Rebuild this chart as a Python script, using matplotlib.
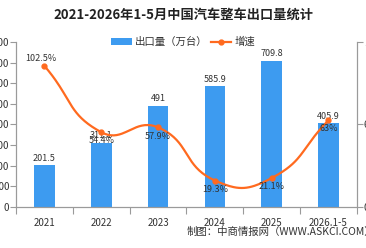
import numpy as np
import matplotlib
matplotlib.use("Agg")
import matplotlib.pyplot as plt

plt.rcParams['font.family'] = ['Noto Sans CJK SC', 'DejaVu Sans']

# data
categories = ["2021", "2022", "2023", "2024", "2025", "2026.1-5"]
exports = [201.5, 311.1, 491, 585.9, 709.8, 405.9]
growth = [102.5, 54.4, 57.9, 19.3, 21.1, 63]
export_labels = ["201.5", "311.1", "491", "585.9", "709.8", "405.9"]
growth_labels = ["102.5%", "54.4%", "57.9%", "19.3%", "21.1%", "63%"]
left_ticks = [0, 100, 200, 300, 400, 500, 600, 700, 800]
right_ticks = [0, 60, 120]

BAR = "#3d9bf0"
LINE = "#ff6a1f"
TXT = "#333333"
AX = "#9a9a9a"


def smooth_line(xs, ys, sx=57.0, sy=1.375, smooth=0.5, n=40):
    # echarts-like bezier smoothing, computed in (approx.) pixel units
    P = np.column_stack([np.asarray(xs, float) * sx, np.asarray(ys, float) * sy])
    k = len(P)
    cps = []
    for i in range(k):
        prev = P[i - 1] if i > 0 else P[i]
        nxt = P[i + 1] if i < k - 1 else P[i]
        v = (nxt - prev) * smooth
        d0 = np.linalg.norm(P[i] - prev)
        d1 = np.linalg.norm(P[i] - nxt)
        tot = d0 + d1
        if tot == 0:
            cps.append((P[i], P[i]))
            continue
        cps.append((P[i] - v * d0 / tot, P[i] + v * d1 / tot))
    out = []
    s = np.linspace(0, 1, n)[:, None]
    for i in range(k - 1):
        a, b = P[i], P[i + 1]
        c1, c2 = cps[i][1], cps[i + 1][0]
        pts = ((1 - s) ** 3 * a + 3 * (1 - s) ** 2 * s * c1
               + 3 * (1 - s) * s ** 2 * c2 + s ** 3 * b)
        out.append(pts)
    out = np.vstack(out)
    return out[:, 0] / sx, out[:, 1] / sy


fig = plt.figure(figsize=(3.66, 2.48), dpi=100)
ax = fig.add_axes([0.044, 0.165, 0.931, 0.666])
ax2 = ax.twinx()

x = np.arange(len(categories))
ax.bar(x, exports, width=0.36, color=BAR, zorder=2, label="出口量（万台）")
ax.set_xlim(-0.5, len(categories) - 0.5)
ax.set_ylim(0, 800)
ax.set_yticks(left_ticks)
ax.set_yticklabels([str(v) for v in left_ticks])

for xi, v, lab in zip(x, exports, export_labels):
    ax.text(xi, v + 12, lab, ha="center", va="bottom", fontsize=6.5, color=TXT)

lx, ly = smooth_line(x, growth)
ax2.plot(lx, ly, color=LINE, lw=1.6, zorder=3)
ax2.plot(x, growth, "o", color=LINE, ms=3.5, zorder=4)
ax2.plot([], [], color=LINE, lw=1.6, marker="o", ms=3.5, label="增速")
ax2.set_ylim(0, 120)
ax2.set_yticks(right_ticks)
ax2.set_yticklabels([f"{v}%" for v in right_ticks])

for i, (xi, v, lab) in enumerate(zip(x, growth, growth_labels)):
    if i == 0:
        ax2.text(xi - 0.06, v + 2, lab, ha="center", va="bottom", fontsize=6.5,
                 color=TXT, zorder=5)
    else:
        ax2.text(xi, v - 3, lab, ha="center", va="top", fontsize=6.5,
                 color=TXT, zorder=5)

# axes styling
for a in (ax, ax2):
    a.spines["top"].set_visible(False)
    for s in ("left", "right", "bottom"):
        a.spines[s].set_color(AX)
        a.spines[s].set_linewidth(0.8)
ax.set_xticks(np.arange(-0.5, len(categories), 1.0))
ax.set_xticklabels([])
ax.set_xticks(x, minor=True)
ax.set_xticklabels(categories, minor=True)
ax.tick_params(axis="x", which="major", length=5, color=AX, width=0.8)
ax.tick_params(axis="x", which="minor", length=0, labelsize=7, colors=TXT, pad=8)
ax.tick_params(axis="y", length=4, color=AX, width=0.8, labelsize=7, labelcolor=TXT, pad=1)
ax2.tick_params(axis="y", length=4, color=AX, width=0.8, labelsize=7, labelcolor=TXT, pad=1)

fig.text(0.5, 0.94, "2021-2026年1-5月中国汽车整车出口量统计", ha="center", va="center",
         fontsize=9.5, fontweight="bold", color="#222222")

h1, l1 = ax.get_legend_handles_labels()
h2, l2 = ax2.get_legend_handles_labels()
fig.legend(h1 + h2, l1 + l2, loc="center", bbox_to_anchor=(0.50, 0.83), ncol=2,
           frameon=False, fontsize=7.5, handlelength=2.0, handleheight=0.7,
           columnspacing=0.3, handletextpad=0.3, labelcolor=TXT)

fig.text(0.51, 0.065, "制图：中商情报网（WWW.ASKCI.COM）", ha="left", va="center",
         fontsize=7.5, color=TXT)

fig.savefig("out.png", dpi=100)
